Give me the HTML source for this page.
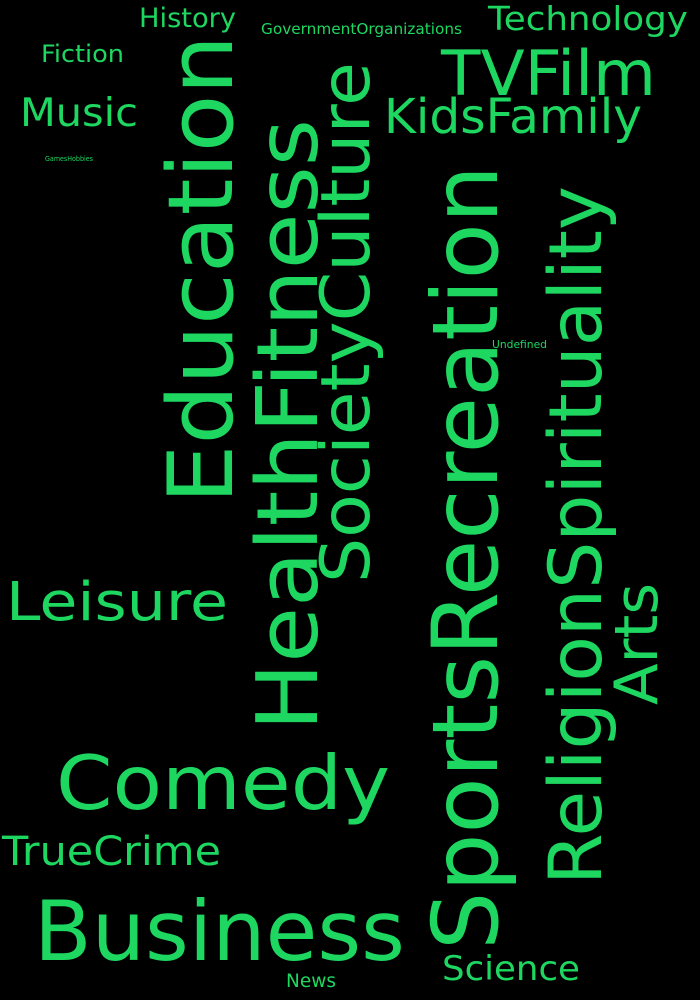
<!DOCTYPE html>
<html lang="en">
<head>
<meta charset="utf-8">
<title>Word cloud</title>
<style>
html,body{margin:0;padding:0;background:#000;width:700px;height:1000px;overflow:hidden}
svg{display:block}
text{font-family:"DejaVu Sans","Liberation Sans",sans-serif;fill:#1ed760}
</style>
</head>
<body>
<svg id="cloud" width="700" height="1000" viewBox="0 0 700 1000" xmlns="http://www.w3.org/2000/svg">
<rect width="700" height="1000" fill="#000"/>
<text class="w" data-i="0" data-ratio="3.464" transform="translate(139 27)">History</text>
<text class="w" data-i="1" data-ratio="12.97" transform="translate(261 34)">GovernmentOrganizations</text>
<text class="w" data-i="2" data-ratio="5.88" transform="translate(488 30)">Technology</text>
<text class="w" data-i="3" data-ratio="3.32" transform="translate(41 62)">Fiction</text>
<text class="w" data-i="4" data-ratio="3.308" transform="translate(441 95)">TVFilm</text>
<text class="w" data-i="5" data-ratio="2.878" transform="translate(20 126)">Music</text>
<text class="w" data-i="6" data-ratio="5.16" transform="translate(384 133)">KidsFamily</text>
<text class="w" data-i="7" data-ratio="6.857" transform="translate(45 161)">GamesHobbies</text>
<text class="w" data-i="8" data-ratio="5" transform="translate(492 348)">Undefined</text>
<text class="w" data-i="9" data-ratio="3.964" transform="translate(6 620)">Leisure</text>
<text class="w" data-i="10" data-ratio="4.282" transform="translate(56 809)">Comedy</text>
<text class="w" data-i="11" data-ratio="5.214" transform="translate(2 865)">TrueCrime</text>
<text class="w" data-i="12" data-ratio="4.314" transform="translate(34 960)">Business</text>
<text class="w" data-i="13" data-ratio="2.63" transform="translate(286 987)">News</text>
<text class="w" data-i="14" data-ratio="3.94" transform="translate(442 980)">Science</text>
<text class="w" data-i="15" data-ratio="4.99" transform="translate(232 504) rotate(-90)">Education</text>
<text class="w" data-i="16" data-ratio="6.955" transform="translate(317 731) rotate(-90)">HealthFitness</text>
<text class="w" data-i="17" data-ratio="7.338" transform="translate(369 583) rotate(-90)">SocietyCulture</text>
<text class="w" data-i="18" data-ratio="8.263" transform="translate(497 950) rotate(-90)">SportsRecreation</text>
<text class="w" data-i="19" data-ratio="9.197" transform="translate(601 885) rotate(-90)">ReligionSpirituality</text>
<text class="w" data-i="20" data-ratio="1.968" transform="translate(657 705) rotate(-90)">Arts</text>
</svg>
<script>
// Relative weight of each category, in the order of the data-i attributes.
var weights = [28, 15.5, 34, 25, 65, 41, 50, 7, 11, 56, 78, 42, 86, 19, 35, 94, 88, 71, 95, 76, 62];
var glyphScale = 0.96;
function fontSize(weight) { return weight * glyphScale; }
function wordLength(weight, ratio) { return weight * ratio; }
var words = document.querySelectorAll('#cloud .w');
words.forEach(function (el) {
  var w = weights[+el.getAttribute('data-i')];
  var ratio = +el.getAttribute('data-ratio');
  el.setAttribute('font-size', fontSize(w));
  el.setAttribute('textLength', wordLength(w, ratio));
  el.setAttribute('lengthAdjust', 'spacingAndGlyphs');
});
</script>
</body>
</html>
